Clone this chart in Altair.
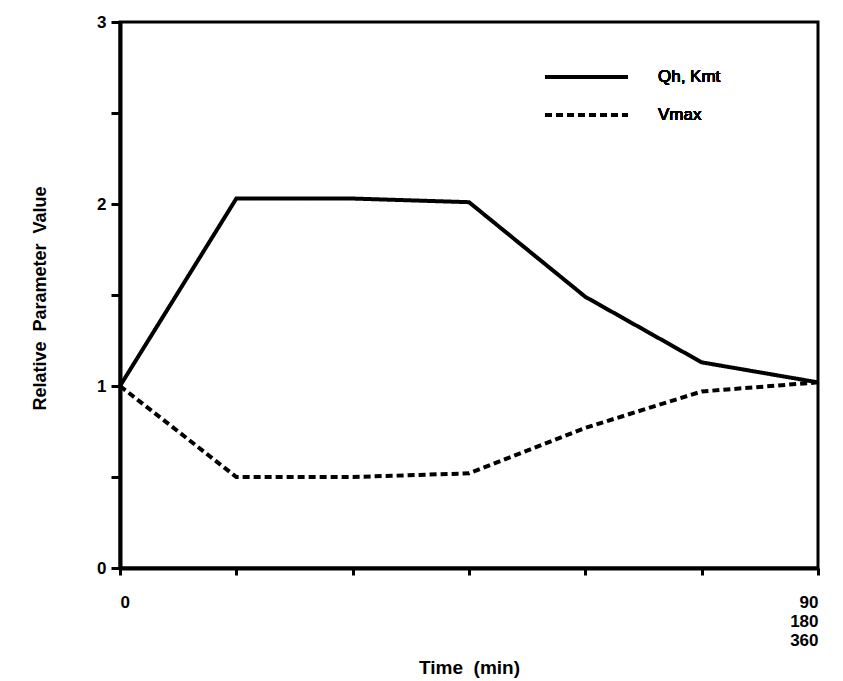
import altair as alt
import pandas as pd

# ---- data ----
time_min = [0, 15, 30, 45, 60, 75, 90]
qh_kmt = [1.0, 2.03, 2.03, 2.01, 1.49, 1.13, 1.02]
vmax = [1.0, 0.50, 0.50, 0.52, 0.77, 0.97, 1.02]
series_names = ["Qh, Kmt", "Vmax"]
x_ticks = [0, 15, 30, 45, 60, 75, 90]
y_ticks = [0, 0.5, 1, 1.5, 2, 2.5, 3]

rows = []
for t, a, b in zip(time_min, qh_kmt, vmax):
    rows.append({"t": t, "v": a, "series": series_names[0]})
    rows.append({"t": t, "v": b, "series": series_names[1]})
df = pd.DataFrame(rows)

FONT = "Liberation Sans"
DASH = [7, 4]

lines = alt.Chart(df).mark_line(color="black", strokeWidth=4, strokeCap="butt", strokeJoin="miter").encode(
    x=alt.X("t:Q", scale=alt.Scale(domain=[0, 90], nice=False),
            axis=alt.Axis(values=x_ticks, title="Time\u00a0\u00a0(min)",
                          labelExpr="datum.value == 0 ? '0' : (datum.value == 90 ? ['90','180','360'] : '')",
                          labelLineHeight=19, labelPadding=19, tickSize=7,
                          titleX=349, titleY=99, titleAlign="center", titleBaseline="middle",
                          titleFontSize=19)),
    y=alt.Y("v:Q", scale=alt.Scale(domain=[0, 3], nice=False),
            axis=alt.Axis(values=y_ticks, title="Relative\u00a0\u00a0Parameter\u00a0\u00a0Value",
                          labelExpr="datum.value % 1 == 0 ? format(datum.value, 'd') : ''",
                          labelPadding=5, tickSize=9,
                          titleX=-80, titleY=276, titleAngle=-90,
                          titleAlign="center", titleBaseline="middle",
                          titleFontSize=18)),
    strokeDash=alt.StrokeDash("series:N", scale=alt.Scale(domain=series_names, range=[[1, 0], DASH]),
                              legend=None),
    detail="series:N",
)

# manual legend
leg_layers = []
for i, name in enumerate(series_names):
    yy = 55 + i * 38
    leg_layers.append(
        alt.Chart(df).mark_rule(color="black", strokeWidth=4, strokeCap="butt",
                                strokeDash=[1, 0] if i == 0 else DASH).encode(
            x=alt.value(425), x2=alt.value(508), y=alt.value(yy))
    )
    leg_layers.append(
        alt.Chart(df).mark_text(align="left", baseline="middle", fontSize=17, font=FONT,
                                color="black").encode(
            x=alt.value(538), y=alt.value(yy), text=alt.value(name))
    )

chart = alt.layer(lines, *leg_layers).properties(
    width=698, height=546,
    autosize=alt.AutoSizeParams(type="none"),
    padding={"left": 120, "top": 22, "right": 25, "bottom": 113},
    background="white",
).configure_view(
    stroke="black", strokeWidth=3
).configure_axis(
    domainColor="black", domainWidth=4, tickColor="black", tickWidth=3,
    labelFont=FONT, labelFontSize=17, labelFontWeight="bold", labelColor="black",
    titleFont=FONT, titleFontWeight="bold", titleColor="black",
    grid=False,
)

chart.save("out.html", embed_options={"renderer": "svg", "actions": False})
